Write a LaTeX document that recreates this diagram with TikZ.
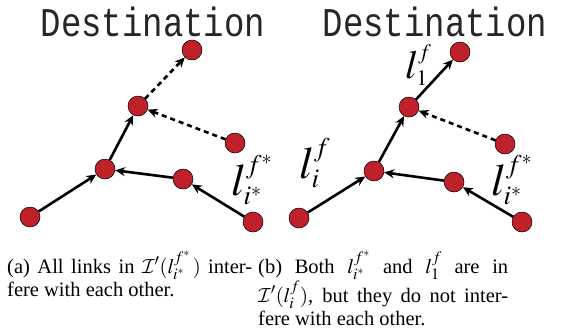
\documentclass[tikz,border=0pt]{standalone}
\usepackage{fix-cm}
\usepackage{mathptmx}
\usepackage{fontspec}
\setmainfont{Liberation Serif}
\newfontfamily\destfont{Liberation Mono}
\usetikzlibrary{arrows.meta, positioning}
\DeclareMathAlphabet{\mathcal}{OMS}{cmsy}{m}{n}
\DeclareMathSizes{45}{45}{27}{20}
\DeclareMathSizes{40}{40}{22}{17}
\DeclareMathSizes{20.5}{20.5}{16}{12}
\definecolor{nodered}{HTML}{C0202A}
\tikzset{
    sensor/.style={circle, draw=black, line width=0.5pt, fill=nodered,
        minimum size=20pt, inner sep=0pt},
    link/.style={line width=2.6pt, -{Stealth[length=10pt, width=9pt]}},
    idlelink/.style={link, dash pattern=on 5pt off 4pt},
    linklabel/.style={inner sep=0pt, anchor=base west,
        font=\fontsize{45}{50}\selectfont},
    dest/.style={inner sep=0pt, text=black!85,
        font=\fontsize{34}{40}\destfont},
    subcap/.style={inner sep=0pt, anchor=base west,
        font=\fontsize{20.5}{23}\selectfont},
}

\begin{document}
\begin{tikzpicture}[x=1pt, y=-1pt]
    \useasboundingbox (0,0) rectangle (564,333);

    % (a)
    \node[dest] (desta) at (153,22) {\scalebox{1}[1.2]{Destination}};
    \node[sensor] (a1) at (30,217) {};
    \node[sensor] (a2) at (105,169) {};
    \node[sensor] (a3) at (183,179) {};
    \node[sensor] (a4) at (253,222) {};
    \node[sensor] (a5) at (138,106) {};
    \node[sensor] (a6) at (192,50) {};
    \node[sensor] (a7) at (235,143) {};
    \draw[link] (a1) -- (a2);
    \draw[link] (a4) -- (a3);
    \draw[link] (a3) -- (a2);
    \draw[link] (a2) -- (a5);
    \draw[idlelink] (a5) -- (a6);
    \draw[idlelink] (a7) -- (a5);
    \node[linklabel] (la) at (231,195) {$l_{i^*}^{f^*}$};

    % (b)
    \node[dest] (destb) at (435,22) {\scalebox{1}[1.2]{Destination}};
    \node[sensor] (b1) at (299,218) {};
    \node[sensor] (b2) at (374,171) {};
    \node[sensor] (b3) at (454,182) {};
    \node[sensor] (b4) at (522,222) {};
    \node[sensor] (b5) at (409,107) {};
    \node[sensor] (b6) at (460,52) {};
    \node[sensor] (b7) at (505,144) {};
    \draw[link] (b1) -- (b2);
    \draw[link] (b4) -- (b3);
    \draw[link] (b3) -- (b2);
    \draw[link] (b2) -- (b5);
    \draw[link] (b5) -- (b6);
    \draw[idlelink] (b7) -- (b5);
    \node[linklabel] (lb1) at (299,178) {$l_{i}^{f}$};
    \node[linklabel, font=\fontsize{40}{44}\selectfont] (lb2) at (405,78)
        {$l_{1}^{f}$};
    \node[linklabel] (lb3) at (491,195) {$l_{i^*}^{f^*}$};

    % captions
    \node[subcap] (capa) at (7,273) {\parbox[t]{245pt}{(a) All links in
        $\mathcal{I}'(l_{i^*}^{f^*}\,)$ inter-\linebreak fere with each other.}};
    \node[subcap] (capb) at (258,273) {\parbox[t]{250pt}{(b) Both
        $l_{i^*}^{f^*}$ and $l_1^f$ are in\linebreak
        $\mathcal{I}'(l_i^f)$, but they do not inter-\linebreak
        fere with each other.}};
\end{tikzpicture}
\end{document}
